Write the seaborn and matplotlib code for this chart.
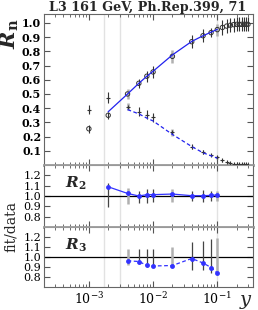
import numpy as np
import pandas as pd
import matplotlib
matplotlib.use("Agg")
import matplotlib.pyplot as plt
import seaborn as sns
from matplotlib.ticker import LogLocator, FixedLocator, NullFormatter

# ---------------- data ----------------
ycut_data = [1e-3, 2e-3, 4e-3, 6e-3, 8e-3, 1e-2, 0.02, 0.04, 0.06, 0.08, 0.1,
             0.12, 0.14, 0.16, 0.18, 0.2, 0.22, 0.24, 0.26, 0.28, 0.3]
r2_data = [0.255, 0.35, 0.50, 0.575, 0.625, 0.655, 0.765, 0.868, 0.91, 0.932, 0.953,
           0.968, 0.978, 0.984, 0.988, 0.99, 0.99, 0.99, 0.99, 0.99, 0.99]
r2_err = [0.03, 0.025, 0.038, 0.033, 0.038, 0.04, 0.047, 0.047, 0.047, 0.03, 0.043,
          0.05, 0.05, 0.05, 0.05, 0.05, 0.05, 0.05, 0.05, 0.05, 0.05]
r3_data = [0.39, 0.475, 0.41, 0.375, 0.355, 0.335, 0.23, 0.13, 0.09, 0.07, 0.055,
           0.032, 0.018, 0.012, 0.009, 0.007, 0.006, 0.005, 0.004, 0.004, 0.003]
r3_err = [0.032, 0.038, 0.023, 0.03, 0.03, 0.03, 0.023, 0.02, 0.015, 0.01, 0.01,
          0.008, 0.005, 0.004, 0.003, 0.003, 0.003, 0.002, 0.002, 0.002, 0.002]

fit2_x = [2e-3, 4e-3, 6e-3, 8e-3, 1e-2, 0.02, 0.04, 0.06, 0.08, 0.1]
fit2_y = [0.375, 0.50, 0.575, 0.625, 0.66, 0.775, 0.87, 0.91, 0.935, 0.955]
fit3_x = [4e-3, 6e-3, 8e-3, 1e-2, 0.02, 0.04, 0.06, 0.08, 0.1]
fit3_y = [0.39, 0.36, 0.33, 0.31, 0.215, 0.13, 0.086, 0.065, 0.048]

ratio2 = [1.089, 1.025, 1.0, 1.013, 1.013, 1.019, 1.003, 1.003, 1.006, 1.01]
ratio2_lo = [0.895, 0.927, 0.937, 0.937, 0.94, 0.94, 0.95, 0.945, 0.95, 0.955]
ratio2_hi = [1.127, 1.08, 1.048, 1.07, 1.07, 1.07, 1.05, 1.055, 1.05, 1.05]
ratio3 = [0.962, 0.955, 0.917, 0.91, 0.915, 0.985, 0.94, 0.895, 0.84]
ratio3_lo = [0.924, 0.927, 0.905, 0.905, 0.924, 0.873, 0.873, 0.84, 0.83]
ratio3_hi = [1.079, 1.079, 1.079, 1.079, 1.098, 1.149, 1.165, 1.184, 1.19]

vlines_x = [1.75e-3, 3.1e-3, 0.1]
thick_x = [4e-3, 0.02, 0.1]

title = "L3 161 GeV, Ph.Rep.399, 71"

# ---------------- style ----------------
sns.set_style("ticks")
plt.rcParams['font.family'] = ['DejaVu Serif']
plt.rcParams['mathtext.fontset'] = 'dejavuserif'

W, H = 258, 310
fig = plt.figure(figsize=(W / 100, H / 100), dpi=100)

def frac(x0, y0, x1, y1):
    return [x0 / W, 1 - y1 / H, (x1 - x0) / W, (y1 - y0) / H]

ax_top = fig.add_axes(frac(44, 14, 253, 165))
ax_r2 = fig.add_axes(frac(44, 165, 253, 227))
ax_r3 = fig.add_axes(frac(44, 227, 253, 287))

XMIN, XMAX = 2e-4, 0.36
spine_c = '#666666'
sep_c = '#999999'
for ax in (ax_top, ax_r2, ax_r3):
    ax.set_xscale('log')
    ax.set_xlim(XMIN, XMAX)
    for s in ax.spines.values():
        s.set_visible(True)
        s.set_color(spine_c)
        s.set_linewidth(0.8)
    ax.tick_params(which='both', direction='in', top=True, right=True,
                   colors='#555555', labelcolor='black')
    ax.tick_params(which='major', length=4, width=0.8)
    ax.tick_params(which='minor', length=2.5, width=0.6)
    ax.xaxis.set_major_locator(LogLocator(base=10, numticks=10))
    ax.xaxis.set_minor_locator(LogLocator(base=10, subs=np.arange(2, 10), numticks=20))
    for vx in vlines_x:
        ax.axvline(vx, color='#e2e2e2', lw=1.0, zorder=0)

ax_top.spines['bottom'].set_color(sep_c)
ax_top.spines['bottom'].set_linewidth(2.0)
ax_r2.spines['bottom'].set_color(sep_c)
ax_r2.spines['bottom'].set_linewidth(2.0)
ax_r2.spines['top'].set_color(sep_c)
ax_r3.spines['top'].set_color(sep_c)

# ---------------- top panel ----------------
xd = np.array(ycut_data)
thick = np.isin(xd, thick_x)
for mask, col, lw in ((~thick, '#333333', 0.8), (thick, '#b0b0b0', 1.8)):
    ax_top.errorbar(xd[mask], np.array(r2_data)[mask], yerr=np.array(r2_err)[mask],
                    fmt='none', ecolor=col, elinewidth=lw, zorder=2)
    ax_top.errorbar(xd[mask], np.array(r3_data)[mask], yerr=np.array(r3_err)[mask],
                    fmt='none', ecolor=col, elinewidth=lw, zorder=2)

df_top = pd.DataFrame({'y': ycut_data, 'R2': r2_data, 'R3': r3_data})
sns.scatterplot(data=df_top, x='y', y='R2', ax=ax_top, marker='o', s=10,
                facecolor='none', edgecolor='#333333', linewidth=0.7, zorder=3)
sns.scatterplot(data=df_top, x='y', y='R3', ax=ax_top, marker='+', s=10,
                color='#333333', linewidth=0.8, zorder=3)

df_f2 = pd.DataFrame({'y': fit2_x, 'fit': fit2_y})
df_f3 = pd.DataFrame({'y': fit3_x, 'fit': fit3_y})
sns.lineplot(data=df_f2, x='y', y='fit', ax=ax_top, color='#2222ee', lw=0.9, zorder=4)
sns.lineplot(data=df_f3, x='y', y='fit', ax=ax_top, color='#2222ee', lw=0.9,
             linestyle=(0, (3, 2)), zorder=4)

ax_top.set_ylim(0, 1.063)
ax_top.yaxis.set_major_locator(FixedLocator(np.round(np.arange(0.1, 1.01, 0.1), 1)))
ax_top.set_yticklabels([f"{v:.1f}" for v in np.arange(0.1, 1.01, 0.1)],
                       fontsize=8, fontweight='bold')
ax_top.tick_params(axis='y', pad=2)
ax_top.xaxis.set_major_formatter(NullFormatter())
ax_top.xaxis.set_minor_formatter(NullFormatter())
ax_top.set_xlabel('')
ax_top.set_ylabel('')

# ---------------- ratio panels ----------------
def ratio_panel(ax, xs, vals, lo, hi, ls, label):
    xs = np.array(xs)
    lo = np.array(lo)
    hi = np.array(hi)
    thick = np.isin(xs, thick_x)
    ax.axhline(1.0, color='black', lw=0.9, zorder=1)
    for mask, col, lw in ((~thick, '#444444', 0.9), (thick, '#b0b0b0', 1.8)):
        ax.vlines(xs[mask], lo[mask], hi[mask], colors=col, lw=lw, zorder=2)
    df = pd.DataFrame({'y': xs, 'r': vals})
    sns.lineplot(data=df, x='y', y='r', ax=ax, color='#3333ff', lw=0.9,
                 linestyle=ls, marker='o', markersize=3.5, markeredgewidth=0,
                 zorder=4)
    ax.set_ylim(0.7, 1.3)
    ax.yaxis.set_major_locator(FixedLocator([0.8, 0.9, 1.0, 1.1, 1.2]))
    ax.set_yticklabels(['0.8', '0.9', '1.0', '1.1', '1.2'], fontsize=8)
    ax.tick_params(axis='y', pad=2)
    ax.set_xlabel('')
    ax.set_ylabel('')
    ax.text(0.1, 0.7, label, transform=ax.transAxes, fontsize=11,
            ha='left', va='center')

ratio_panel(ax_r2, fit2_x, ratio2, ratio2_lo, ratio2_hi, '-',
            r'$\mathbfit{R}_{\mathbf{2}}$')
ratio_panel(ax_r3, fit3_x, ratio3, ratio3_lo, ratio3_hi, (0, (3, 2)),
            r'$\mathbfit{R}_{\mathbf{3}}$')

ax_r2.xaxis.set_major_formatter(NullFormatter())
ax_r2.xaxis.set_minor_formatter(NullFormatter())
ax_r3.xaxis.set_minor_formatter(NullFormatter())
ax_r3.tick_params(axis='x', labelsize=9, pad=3)

# ---------------- texts ----------------
fig.text(148 / W, 1 - 7 / H, title, ha='center', va='center',
         fontsize=9.2, fontweight='bold')
fig.text(10 / W, 1 - 34 / H, r'$\mathbfit{R}_{\mathbf{n}}$', rotation=90,
         ha='center', va='center', fontsize=15)
fig.text(11 / W, 1 - 226 / H, 'fit/data', rotation=90, ha='center',
         va='center', fontsize=10)
fig.text(246 / W, 1 - 302 / H, r'$y$', ha='center', va='center', fontsize=14)

fig.savefig('out.png', dpi=100)
